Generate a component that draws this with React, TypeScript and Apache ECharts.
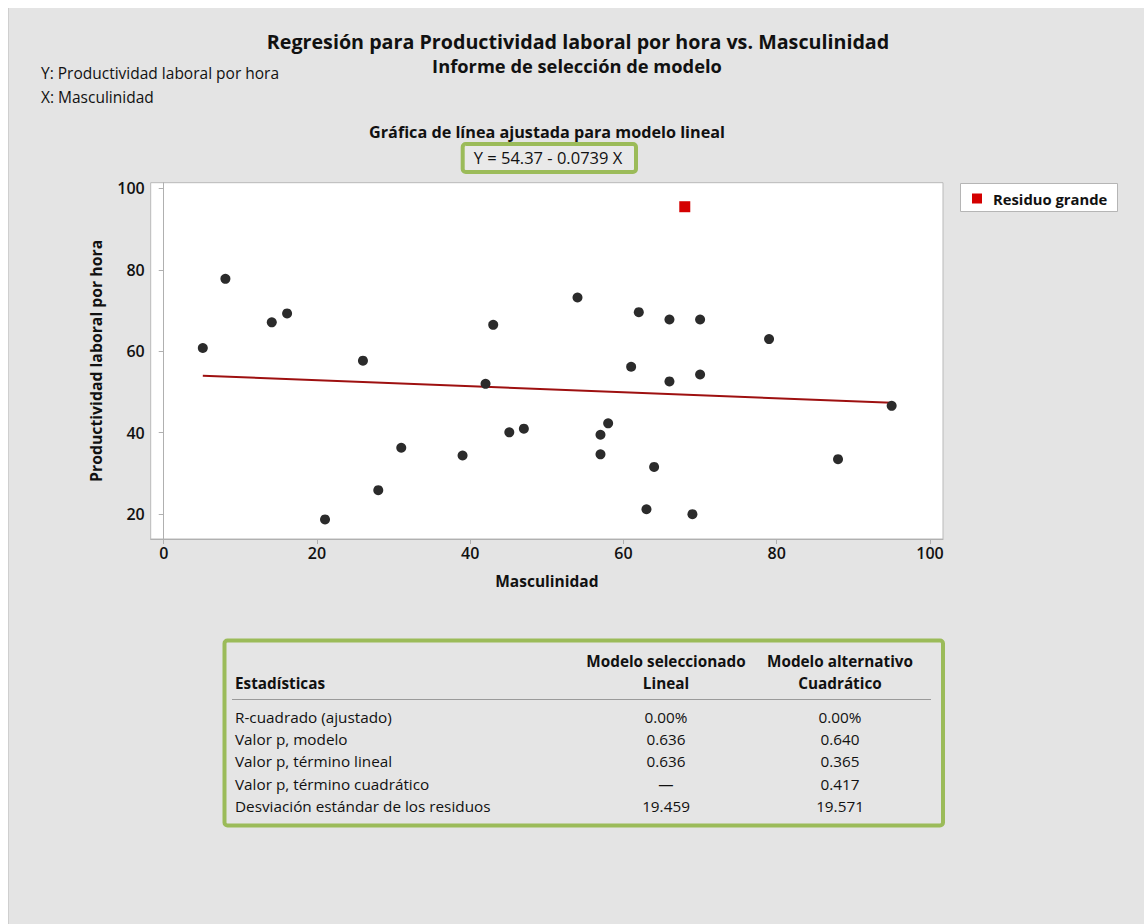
import React, { useEffect, useRef } from "react";
import * as echarts from "echarts";

const FONT = "'Open Sans', 'Noto Sans', sans-serif";

const masculinidad = [5.1, 8.05, 14.1, 16.1, 21.05, 26.0, 28.0, 31.0, 39.0, 42.0, 43.0, 45.1, 47.0, 54.0, 57.0, 57.0, 58.0, 61.0, 62.0, 63.0, 64.0, 66.0, 66.0, 69.0, 70.0, 70.0, 79.0, 88.0, 95.0];
const productividad = [60.8, 77.8, 67.1, 69.3, 18.7, 57.7, 25.9, 36.3, 34.4, 52.0, 66.5, 40.1, 41.0, 73.2, 39.5, 34.7, 42.3, 56.2, 69.6, 21.2, 31.6, 67.8, 52.6, 20.0, 67.8, 54.3, 63.0, 33.5, 46.6];
const residuoGrandeX = [68.0];
const residuoGrandeY = [95.5];
const intercept = 54.37;
const slope = -0.0739;
const xTicks = [0, 20, 40, 60, 80, 100];
const yTicks = [20, 40, 60, 80, 100];

const tableHeaderSel = ["Modelo seleccionado", "Lineal"];
const tableHeaderAlt = ["Modelo alternativo", "Cuadrático"];
const tableRows = [
  "R-cuadrado (ajustado)",
  "Valor p, modelo",
  "Valor p, término lineal",
  "Valor p, término cuadrático",
  "Desviación estándar de los residuos",
];
const selValues = ["0.00%", "0.636", "0.636", "—", "19.459"];
const altValues = ["0.00%", "0.640", "0.365", "0.417", "19.571"];

export default function App() {
  const ref = useRef<HTMLDivElement>(null);
  useEffect(() => {
    if (!ref.current) return;
    const chart = echarts.init(ref.current, undefined, { renderer: "svg" });
    const pts = masculinidad.map((x, i) => [x, productividad[i]]);
    const big = residuoGrandeX.map((x, i) => [x, residuoGrandeY[i]]);
    const xmin = Math.min(...masculinidad);
    const xmax = Math.max(...masculinidad);
    const fit = [
      [xmin, intercept + slope * xmin],
      [xmax, intercept + slope * xmax],
    ];
    const txt = (x: number, y: number, text: string, opts: any = {}) => ({
      type: "text",
      x,
      y,
      silent: true,
      style: {
        text,
        fill: "#111",
        font: `${opts.weight || "normal"} ${opts.size || 15}px ${FONT}`,
        textAlign: opts.align || "left",
        textVerticalAlign: "middle",
      },
    });
    const rowY0 = 717;
    const rowStep = 22.2;
    const TS = 15.3;
    const graphics: any[] = [
      txt(578, 41, "Regresión para Productividad laboral por hora vs. Masculinidad", { weight: "bold", size: 19.7, align: "center" }),
      txt(577, 65, "Informe de selección de modelo", { weight: "bold", size: 18.3, align: "center" }),
      txt(41, 73, "Y: Productividad laboral por hora", { size: 15.5 }),
      txt(41, 97, "X: Masculinidad", { size: 15.5 }),
      txt(547, 132, "Gráfica de línea ajustada para modelo lineal", { weight: "bold", size: 16.2, align: "center" }),
      {
        type: "rect",
        shape: { x: 462.7, y: 144, width: 173.3, height: 28, r: 3 },
        style: { fill: "#e9e9e9", stroke: "#9bbb59", lineWidth: 4 },
        silent: true,
      },
      txt(548, 157, `Y = ${intercept.toFixed(2)} - ${Math.abs(slope).toFixed(4)} X`, { size: 16.5, align: "center" }),
      // legend
      {
        type: "rect",
        shape: { x: 960.5, y: 183.5, width: 157, height: 28 },
        style: { fill: "#ffffff", stroke: "#b5b5b5", lineWidth: 1 },
        silent: true,
      },
      {
        type: "rect",
        shape: { x: 972, y: 193.5, width: 10, height: 10 },
        style: { fill: "#d40000" },
        silent: true,
      },
      txt(993, 198.5, "Residuo grande", { weight: "bold", size: 14.8 }),
      // table box
      {
        type: "rect",
        shape: { x: 224.5, y: 640.5, width: 718.5, height: 185, r: 3 },
        style: { fill: "#e5e5e5", stroke: "#9bbb59", lineWidth: 4 },
        silent: true,
      },
      {
        type: "line",
        shape: { x1: 232, y1: 699.5, x2: 931, y2: 699.5 },
        style: { stroke: "#9a9a9a", lineWidth: 1 },
        silent: true,
      },
      txt(235, 683, "Estadísticas", { weight: "bold", size: TS }),
      txt(666, 661, tableHeaderSel[0], { weight: "bold", size: TS, align: "center" }),
      txt(666, 683, tableHeaderSel[1], { weight: "bold", size: TS, align: "center" }),
      txt(840, 661, tableHeaderAlt[0], { weight: "bold", size: TS, align: "center" }),
      txt(840, 683, tableHeaderAlt[1], { weight: "bold", size: TS, align: "center" }),
    ];
    tableRows.forEach((r, i) => {
      const y = rowY0 + i * rowStep;
      graphics.push(txt(235, y, r, { size: TS }));
      graphics.push(txt(666, y, selValues[i], { size: TS, align: "center" }));
      graphics.push(txt(840, y, altValues[i], { size: TS, align: "center" }));
    });

    chart.setOption({
      animation: false,
      backgroundColor: "transparent",
      textStyle: { fontFamily: FONT },
      grid: {
        left: 150.7,
        top: 182.7,
        width: 792.3,
        height: 356.3,
        show: true,
        backgroundColor: "#ffffff",
        borderColor: "#b9b9b9",
        borderWidth: 1,
        containLabel: false,
      },
      xAxis: {
        type: "value",
        min: -1.7,
        max: 101.7,
        name: "Masculinidad",
        nameLocation: "middle",
        nameGap: 34,
        nameTextStyle: { fontWeight: "bold", fontSize: 15.5, color: "#111", fontFamily: FONT },
        axisLine: { show: true, lineStyle: { color: "#b0b0b0" } },
        axisTick: { show: true, length: 5, customValues: xTicks, lineStyle: { color: "#b0b0b0" } },
        axisLabel: { customValues: xTicks, fontSize: 16, color: "#111", margin: 6, fontFamily: FONT, fontWeight: 600 },
        splitLine: { show: false },
      },
      yAxis: {
        type: "value",
        min: 13.9,
        max: 101.4,
        name: "Productividad laboral por hora",
        nameLocation: "middle",
        nameGap: 47,
        nameTextStyle: { fontWeight: "bold", fontSize: 15.8, color: "#111", fontFamily: FONT },
        axisLine: { show: true, lineStyle: { color: "#b0b0b0" } },
        axisTick: { show: true, length: 5, customValues: yTicks, lineStyle: { color: "#b0b0b0" } },
        axisLabel: { customValues: yTicks, fontSize: 16, color: "#111", margin: 6, fontFamily: FONT, fontWeight: 600 },
        splitLine: { show: false },
      },
      series: [
        {
          name: "Ajuste",
          type: "line",
          data: fit,
          symbol: "none",
          lineStyle: { color: "#9e1010", width: 2 },
          silent: true,
          z: 2,
        },
        {
          name: "Observaciones",
          type: "scatter",
          data: pts,
          symbol: "circle",
          symbolSize: 10,
          itemStyle: { color: "#2b2b2b", opacity: 1 },
          z: 3,
        },
        {
          name: "Residuo grande",
          type: "scatter",
          data: big,
          symbol: "rect",
          symbolSize: 11,
          itemStyle: { color: "#d40000", opacity: 1 },
          z: 3,
        },
      ],
      graphic: graphics,
    });
    return () => chart.dispose();
  }, []);
  return (
    <div style={{ position: "absolute", left: 0, top: 0, width: 1144, height: 924, background: "#ffffff" }}>
      <div style={{ position: "absolute", left: 8, top: 8, width: 1136, height: 916, background: "#e4e4e4", borderLeft: "1px solid #cfcfcf", boxSizing: "border-box" }} />
      <div ref={ref} style={{ position: "absolute", left: 0, top: 0, width: 1144, height: 924 }} />
    </div>
  );
}
